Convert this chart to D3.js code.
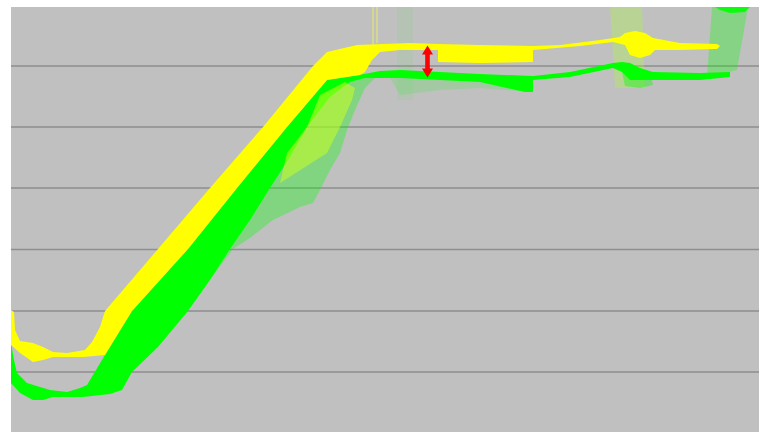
<!DOCTYPE html>
<html>
<head>
<meta charset="utf-8">
<script src="https://cdn.jsdelivr.net/npm/d3@7"></script>
<style>
  body { margin: 0; background: #fff; }
</style>
</head>
<body>
<div id="chart"></div>
<script>
// profile data: x = distance along section, y = elevation (same units as grid)
const gridValues = [61, 122, 183.5, 245, 306, 367];

// yellow scan (upper surface)
const yellowTop = [
  [0, 123], [3, 121], [4, 103], [9, 92], [22, 90], [32, 86], [42, 81], [56, 80],
  [74, 83], [81, 91], [89, 106], [94, 122], [147, 184], [199, 245], [252, 306],
  [302, 367], [316, 381], [346, 388], [399, 390], [427, 389], [469, 388], [522, 387],
  [549, 388], [589, 393], [609, 396], [614, 400], [624, 402], [634, 400], [642, 395],
  [669, 390], [706, 389], [709, 387]
];
const yellowBottom = [
  [0, 88], [9, 80], [22, 71], [32, 73], [42, 76], [72, 76], [94, 78], [121, 122],
  [177, 184], [226, 245], [276, 306], [316, 353], [349, 358], [354, 361], [361, 373],
  [369, 381], [389, 383], [427, 383], [427, 371], [469, 370], [522, 371], [522, 383],
  [534, 384], [569, 387], [602, 391], [614, 388], [619, 378], [629, 375], [639, 378],
  [644, 383], [669, 383], [706, 384], [709, 387]
];

// green scan (lower surface)
const greenTop = [
  [0, 90], [3, 73], [6, 60], [16, 50], [29, 46], [39, 43], [56, 41], [69, 45],
  [76, 48], [94, 78], [121, 122], [177, 184], [226, 245], [276, 306], [316, 353],
  [349, 358], [369, 362], [389, 363], [429, 361], [469, 359], [522, 357], [559, 361],
  [602, 370], [611, 371], [619, 370], [629, 365], [642, 361], [689, 360], [719, 361]
];
const greenBottom = [
  [0, 50], [9, 40], [22, 33], [32, 33], [42, 36], [72, 36], [99, 39], [111, 43],
  [121, 61], [147, 86], [177, 122], [199, 153], [219, 184], [239, 213], [259, 245],
  [279, 276], [296, 306], [319, 336], [339, 351], [354, 355], [389, 355], [429, 353],
  [469, 351], [514, 341], [522, 341], [522, 353], [559, 356], [602, 365], [611, 361],
  [619, 353], [629, 353], [639, 353], [649, 353], [689, 353], [719, 356]
];

// sparse green points spilling below the slope
const greenFringe = [
  [316, 353], [371, 362], [354, 345], [344, 323], [336, 303], [329, 280], [319, 263],
  [309, 243], [302, 230], [289, 226], [262, 213], [239, 195], [222, 184], [199, 153]
];
// mixed yellow/green points inside the slope
const mixedPatch = [
  [269, 250], [316, 280], [329, 306], [341, 333], [344, 345], [334, 351],
  [309, 338], [296, 306], [276, 280]
];
const greenUnderPlateau = [
  [379, 355], [519, 353], [519, 341], [469, 345], [429, 343], [389, 338]
];
const greenBlobLow = [[611, 361], [639, 361], [642, 348], [629, 345], [614, 347]];

// vertical point columns (walls / poles)
const columnFaint = [[386, 426], [402, 426], [402, 333], [386, 333]];
const columnMixed = [[599, 426], [631, 426], [634, 345], [604, 345]];
const columnGreen = [[701, 426], [737, 426], [726, 363], [696, 356]];
const columnGreenTop = [[704, 426], [739, 426], [734, 421], [719, 420], [709, 423]];
const yellowPoles = [[362, 426, 388], [366, 426, 390]];

// vertical offset marker
const offsetMarker = [{ x: 416.5, top: 387.5, bottom: 355.5 }];

const width = 759;
const height = 432;

const svg = d3.select("#chart")
  .append("svg")
  .attr("width", width)
  .attr("height", height);

const x = d3.scaleLinear().domain([0, 748]).range([11, 759]);
const y = d3.scaleLinear().domain([0, 425]).range([433, 8]);

svg.append("defs").append("clipPath")
  .attr("id", "plot")
  .append("rect")
  .attr("x", 11).attr("y", 7)
  .attr("width", width - 11).attr("height", height - 7);

// background
svg.append("rect")
  .attr("x", 11).attr("y", 7)
  .attr("width", width - 11).attr("height", height - 7)
  .attr("fill", "#c0c0c0");

const g = svg.append("g").attr("clip-path", "url(#plot)");

// grid lines
g.selectAll(".grid")
  .data(gridValues)
  .enter()
  .append("line")
  .attr("class", "grid")
  .attr("x1", x(0)).attr("x2", x(748))
  .attr("y1", d => y(d)).attr("y2", d => y(d))
  .attr("stroke", "#8e8e8e")
  .attr("stroke-width", 1.6);

const line = d3.line().x(d => x(d[0])).y(d => y(d[1]));
const shape = pts => line(pts) + "Z";
const band = (top, bottom) => shape(top.concat(bottom.slice().reverse()));

function patch(pts, fill, opacity) {
  g.append("path")
    .attr("d", shape(pts))
    .attr("fill", fill)
    .attr("fill-opacity", opacity);
}

// faint columns first
patch(columnFaint, "#00ff00", 0.06);
patch(columnMixed, "#a8ff30", 0.3);
patch(columnGreen, "#00ff00", 0.3);
patch(greenUnderPlateau, "#00ff00", 0.15);
patch(greenBlobLow, "#00ff00", 0.4);

// green surface
patch(greenFringe, "#00ff00", 0.33);
g.append("path")
  .attr("d", band(greenTop, greenBottom))
  .attr("fill", "#00ff00");
patch(mixedPatch, "#c8ff20", 0.55);
patch(columnGreenTop, "#00ff00", 0.9);

// yellow surface
g.append("path")
  .attr("d", band(yellowTop, yellowBottom))
  .attr("fill", "#ffff00");

g.selectAll(".pole")
  .data(yellowPoles)
  .enter()
  .append("line")
  .attr("x1", d => x(d[0])).attr("x2", d => x(d[0]))
  .attr("y1", d => y(d[1])).attr("y2", d => y(d[2]))
  .attr("stroke", "#ffff40")
  .attr("stroke-opacity", 0.7)
  .attr("stroke-width", 1);

// red double arrow
const head = 9, halfHead = 5.5, halfShaft = 2.3;
g.selectAll(".arrow")
  .data(offsetMarker)
  .enter()
  .append("path")
  .attr("d", d => {
    const cx = x(d.x), t = y(d.top), b = y(d.bottom);
    return `M${cx},${t} L${cx + halfHead},${t + head} L${cx + halfShaft},${t + head}
            L${cx + halfShaft},${b - head} L${cx + halfHead},${b - head} L${cx},${b}
            L${cx - halfHead},${b - head} L${cx - halfShaft},${b - head}
            L${cx - halfShaft},${t + head} L${cx - halfHead},${t + head} Z`;
  })
  .attr("fill", "#ff0000");
</script>
</body>
</html>
